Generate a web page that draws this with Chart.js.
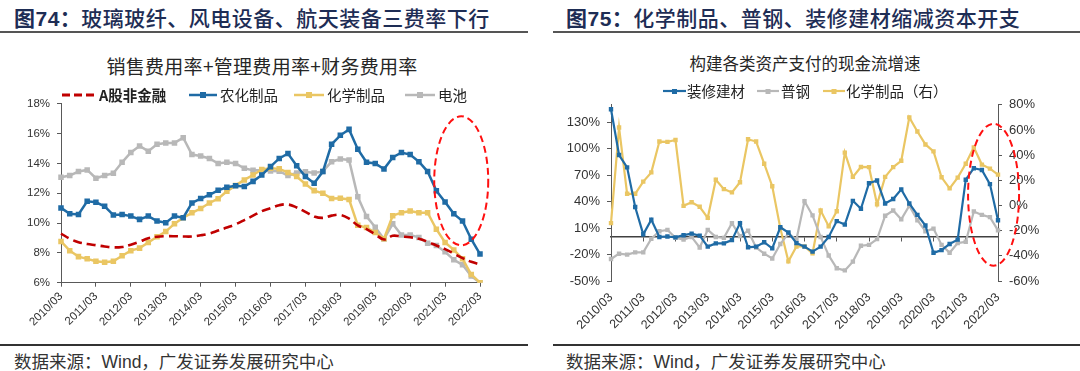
<!DOCTYPE html>
<html><head><meta charset="utf-8">
<script src="https://cdn.jsdelivr.net/npm/chart.js@4.4.1/dist/chart.umd.min.js"></script>
<style>
html,body{margin:0;padding:0;background:#fff;}
#root{position:relative;width:1080px;height:371px;overflow:hidden;font-family:"Liberation Sans","Noto Sans CJK SC",sans-serif;}
.abs{position:absolute;white-space:nowrap;}
.title{font-size:21px;line-height:22px;color:#1e2d55;top:6px;letter-spacing:0.5px;font-family:"Noto Sans CJK SC",sans-serif;font-weight:500;}
.title b{font-weight:700;}
.title b span{font-family:"Liberation Sans",Arial,sans-serif;}
.rule{position:absolute;background:#555;}
.ctitle{font-family:"Noto Sans CJK SC",sans-serif;color:#262626;transform:translateX(-50%);}
.leg{font-family:"Noto Sans CJK SC",sans-serif;font-size:14.5px;line-height:16px;color:#222;}
.src{font-size:17.5px;line-height:20px;color:#333;top:352px;}
canvas{position:absolute;}
</style></head>
<body><div id="root">
<div class="abs title" style="left:14px"><b>图<span>74</span>：</b>玻璃玻纤、风电设备、航天装备三费率下行</div>
<div class="abs title" style="left:566px"><b>图<span>75</span>：</b>化学制品、普钢、装修建材缩减资本开支</div>
<div class="rule" style="left:0;top:31px;width:528px;height:2px"></div>
<div class="rule" style="left:553px;top:31px;width:527px;height:2px"></div>

<div class="abs ctitle" style="left:262px;top:55px;font-size:19px;line-height:22px;letter-spacing:0.3px">销售费用率+管理费用率+财务费用率</div>
<div class="abs ctitle" style="left:805px;top:53px;font-size:16.5px;line-height:20px">构建各类资产支付的现金流增速</div>

<canvas id="c1" width="520" height="260" style="left:0;top:90px;width:520px;height:260px"></canvas>
<canvas id="c2" width="520" height="260" style="left:560px;top:90px;width:520px;height:260px"></canvas>

<!-- left legend -->
<svg class="abs" style="left:62px;top:91px" width="34" height="8"><line x1="0" y1="4" x2="34" y2="4" stroke="#c00000" stroke-width="3" stroke-dasharray="8,4"/></svg>
<div class="abs leg" style="left:99px;top:87px;font-weight:700">A股非金融</div>
<svg class="abs" style="left:189px;top:91px" width="28" height="8"><line x1="0" y1="4" x2="28" y2="4" stroke="#1f6ba5" stroke-width="2.5"/><rect x="11" y="1" width="6" height="6" fill="#1f6ba5"/></svg>
<div class="abs leg" style="left:220px;top:87px">农化制品</div>
<svg class="abs" style="left:294px;top:91px" width="30" height="8"><line x1="0" y1="4" x2="30" y2="4" stroke="#eac663" stroke-width="2.5"/><rect x="12" y="1" width="6" height="6" fill="#eac663"/></svg>
<div class="abs leg" style="left:327px;top:87px">化学制品</div>
<svg class="abs" style="left:405px;top:91px" width="30" height="8"><line x1="0" y1="4" x2="30" y2="4" stroke="#b8b8b8" stroke-width="2.5"/><rect x="12" y="1" width="6" height="6" fill="#b8b8b8"/></svg>
<div class="abs leg" style="left:438px;top:87px">电池</div>

<!-- right legend -->
<svg class="abs" style="left:663px;top:87px" width="23" height="8"><line x1="0" y1="4" x2="23" y2="4" stroke="#1f6ba5" stroke-width="2.2"/><rect x="9" y="2" width="5" height="5" fill="#1f6ba5"/></svg>
<div class="abs leg" style="left:687px;top:83px">装修建材</div>
<svg class="abs" style="left:757px;top:87px" width="22" height="8"><line x1="0" y1="4" x2="22" y2="4" stroke="#b8b8b8" stroke-width="2.2"/><rect x="8.5" y="2" width="5" height="5" fill="#b8b8b8"/></svg>
<div class="abs leg" style="left:781px;top:83px">普钢</div>
<svg class="abs" style="left:823px;top:87px" width="22" height="8"><line x1="0" y1="4" x2="22" y2="4" stroke="#eac663" stroke-width="2.2"/><rect x="8.5" y="2" width="5" height="5" fill="#eac663"/></svg>
<div class="abs leg" style="left:846px;top:83px">化学制品（右）</div>

<div class="rule" style="left:0;top:344px;width:528px;height:1.5px;background:#333"></div>
<div class="rule" style="left:553px;top:344px;width:527px;height:1.5px;background:#333"></div>
<div class="abs src" style="left:14px">数据来源：Wind，广发证券发展研究中心</div>
<div class="abs src" style="left:566px">数据来源：Wind，广发证券发展研究中心</div>
</div>
<script>
// ---------- data ----------
const quarters = ["2010/03","2010/06","2010/09","2010/12","2011/03","2011/06","2011/09","2011/12",
"2012/03","2012/06","2012/09","2012/12","2013/03","2013/06","2013/09","2013/12",
"2014/03","2014/06","2014/09","2014/12","2015/03","2015/06","2015/09","2015/12",
"2016/03","2016/06","2016/09","2016/12","2017/03","2017/06","2017/09","2017/12",
"2018/03","2018/06","2018/09","2018/12","2019/03","2019/06","2019/09","2019/12",
"2020/03","2020/06","2020/09","2020/12","2021/03","2021/06","2021/09","2021/12","2022/03"];
const yearTicks = ["2010/03","2011/03","2012/03","2013/03","2014/03","2015/03","2016/03",
"2017/03","2018/03","2019/03","2020/03","2021/03","2022/03"];

// Fig.74: selling + admin + financial expense ratio (%)
const feeAShareNonFin = [9.3,8.95,8.72,8.6,8.52,8.43,8.37,8.4,8.55,8.75,8.98,9.08,9.12,9.12,9.1,9.1,
9.18,9.3,9.5,9.7,9.92,10.2,10.5,10.8,11.0,11.2,11.25,11.05,10.75,10.45,10.35,10.5,10.55,10.3,9.85,9.6,
9.25,8.9,9.15,9.1,9.05,8.95,8.75,8.5,8.25,7.95,7.65,7.4,7.22];
const feeAgroChem = [11.02,10.62,10.58,11.46,11.4,11.13,10.54,10.58,10.47,10.25,10.47,10.14,10.03,10.47,10.36,11.35,
11.65,11.9,12.2,12.4,12.5,12.45,12.8,13.23,13.79,14.34,14.67,13.85,13.12,12.68,13.46,15.29,15.89,16.29,14.96,14.08,
14.0,13.63,14.41,14.74,14.6,14.12,13.46,12.17,11.42,10.62,10.14,8.92,7.92];
const feeChemProducts = [8.77,8.15,7.75,7.6,7.44,7.37,7.44,7.81,8.15,8.32,8.7,9.08,9.43,9.96,10.36,10.69,
10.98,11.35,11.64,12.13,12.53,12.9,13.23,13.6,13.68,13.64,13.4,13.13,12.63,12.18,12.0,11.65,11.67,11.59,9.85,9.7,
9.37,8.95,10.5,10.7,10.81,10.7,10.7,9.59,8.7,8.2,7.6,6.55,6.0];
const feeBattery = [13.08,13.19,13.46,13.57,13.01,13.19,13.35,14.08,14.74,15.18,14.83,15.29,15.38,15.38,15.73,14.6,
14.5,14.34,14.0,14.08,14.0,13.68,13.54,13.54,13.5,13.48,13.19,13.36,13.45,13.36,13.47,14.12,14.3,14.24,11.77,10.45,
9.72,8.93,9.95,9.2,9.2,9.04,8.65,8.5,8.07,7.54,7.2,6.45,6.0];
const feeTicks = [6,8,10,12,14,16,18];

// Fig.75: growth of cash paid for long-term assets (%)
const capexDecoration = [145,93,79,34,3,19.5,0,0.5,-0.5,2,3.8,1.5,-11,-7.3,-7.3,-3.6,
15.7,-11.7,-11,-6,-13,11,5,-7,-11,-16.6,-11,0,18,14,41,32,61,64,38,43,
54,38,25,13,-18,-15,-8,-3,65,78,76,60,19];
const capexSteel = [-25,-19,-20,-17.5,-17.5,-2,6.5,8,-1,-3,0,-12,8,0,-1,15.6,
1,7,-12,-19,-24.5,-8,4,-3,40.5,24.5,0,-21,-35.5,-38,-28,-10,-9,-2.5,24,30,
20,35.5,19,6.5,9.5,-9,-18,-7,-5.5,29,25,22.5,7.5];
const capexChemRight = [-14,62,9.3,9.3,19,26.3,50.8,50.5,52,-0.3,2.6,-1,-9.8,20.5,13,10.4,
18.5,52.6,50.8,33.2,15.3,-18,-44.4,-32.6,-32.5,-38,-4,-16.5,-4.6,42,22.7,30.6,30.5,1,22.7,30.5,
35.5,70,58.8,48.5,43,22.4,13.6,22.1,33.2,46.2,32.5,29.3,24.5];
const capexLeftTicks = [-50,-20,10,40,70,100,130];
const capexRightTicks = [-60,-40,-20,0,20,40,60,80];

// ---------- styling ----------
const AX = '#595959';
const TXT = '#333333';
const CLEAR = 'rgba(0,0,0,0)';
const BLUE = '#1f6ba5', YELLOW = '#eac663', GRAY = '#b8b8b8', RED = '#c00000';
const latin = '"Liberation Sans", Arial, sans-serif';
const isYear = i => yearTicks.includes(quarters[i]);
const setTicks = arr => s => { s.ticks = arr.map(v => ({value: v})); };

function ellipsePlugin(idx, val, axisId, rx, ry) {
  return { id: 'highlight', afterDraw(chart) {
    const x = chart.scales.x.getPixelForValue(idx);
    const y = chart.scales[axisId].getPixelForValue(val);
    const ctx = chart.ctx;
    ctx.save(); ctx.strokeStyle = '#ff1010'; ctx.lineWidth = 2; ctx.setLineDash([7, 4]);
    ctx.beginPath(); ctx.ellipse(x, y, rx, ry, 0, 0, Math.PI * 2); ctx.stroke(); ctx.restore();
  }};
}
function lineDs(label, data, color, r, w, extra) {
  return Object.assign({label, data, borderColor: color, backgroundColor: color, borderWidth: w,
    pointStyle: 'rect', pointRadius: r, pointBorderWidth: 0, pointBackgroundColor: color,
    tension: 0, fill: false}, extra || {});
}

new Chart(document.getElementById('c1'), {
  type: 'line',
  data: { labels: quarters, datasets: [
    lineDs('A股非金融', feeAShareNonFin, RED, 0, 2.6, {borderDash: [9, 5], tension: 0.4}),
    lineDs('农化制品', feeAgroChem, BLUE, 3.9, 2.5),
    lineDs('化学制品', feeChemProducts, YELLOW, 3.9, 2.5),
    lineDs('电池', feeBattery, GRAY, 3.9, 2.5)
  ]},
  options: {
    responsive: false, animation: false, events: [],
    layout: { padding: { top: 11.7, right: 40, bottom: 0, left: 0 } },
    plugins: { legend: { display: false }, tooltip: { enabled: false } },
    scales: {
      x: {
        grid: { drawOnChartArea: false, tickLength: 4, tickColor: c => isYear(c.index) ? AX : CLEAR },
        border: { color: AX, width: 1 },
        ticks: { autoSkip: false, maxRotation: 45, minRotation: 45, padding: 3, color: TXT,
          font: { family: latin, size: 11.5 }, callback: (v, i) => isYear(i) ? quarters[i] : '' },
        afterFit: s => { s.height = 67.3; }
      },
      y: {
        min: 6, max: 18, afterBuildTicks: setTicks(feeTicks),
        grid: { drawOnChartArea: false, tickLength: 4, tickColor: AX },
        border: { color: AX, width: 1 },
        ticks: { color: TXT, padding: 7, font: { family: latin, size: 11.5 }, callback: v => v + '%' },
        afterFit: s => { s.width = 61; }
      }
    }
  },
  plugins: [ellipsePlugin(45.85, 12.84, 'y', 27, 64.5)]
});

new Chart(document.getElementById('c2'), {
  type: 'line',
  data: { labels: quarters, datasets: [
    lineDs('装修建材', capexDecoration, BLUE, 3.1, 2.2, {yAxisID: 'y'}),
    lineDs('普钢', capexSteel, GRAY, 3.1, 2.2, {yAxisID: 'y'}),
    lineDs('化学制品（右）', capexChemRight, YELLOW, 3.1, 2.2, {yAxisID: 'y1'})
  ]},
  options: {
    responsive: false, animation: false, events: [],
    layout: { padding: { top: 11, right: 0, bottom: 0, left: 0 } },
    plugins: { legend: { display: false }, tooltip: { enabled: false } },
    scales: {
      x: {
        position: 'bottom',
        grid: { display: false, drawTicks: false }, border: { display: false },
        ticks: { autoSkip: false, maxRotation: 45, minRotation: 45, padding: 9, color: TXT,
          font: { family: latin, size: 12.5 }, callback: (v, i) => isYear(i) ? quarters[i] : '' },
        afterFit: s => { s.height = 69; }
      },
      xZero: {
        type: 'category', position: { y: 0 },
        grid: { drawOnChartArea: false, tickLength: 4, tickColor: c => isYear(c.index) ? AX : CLEAR },
        border: { color: '#404040', width: 1.5 },
        ticks: { display: false }
      },
      y: {
        position: 'left', min: -50, max: 150, afterBuildTicks: setTicks(capexLeftTicks),
        grid: { drawOnChartArea: false, tickLength: 4, tickColor: AX },
        border: { color: AX, width: 1 },
        ticks: { color: TXT, padding: 7, font: { family: latin, size: 13 }, callback: v => v + '%' },
        afterFit: s => { s.width = 51; }
      },
      y1: {
        position: 'right', min: -60, max: 80, afterBuildTicks: setTicks(capexRightTicks),
        grid: { drawOnChartArea: false, tickLength: 4, tickColor: AX },
        border: { color: AX, width: 1 },
        ticks: { color: TXT, padding: 7, font: { family: latin, size: 13 }, callback: v => v + '%' },
        afterFit: s => { s.width = 82; }
      }
    }
  },
  plugins: [ellipsePlugin(47.45, 47.9, 'y', 25.5, 71)]
});
</script>
</body></html>
